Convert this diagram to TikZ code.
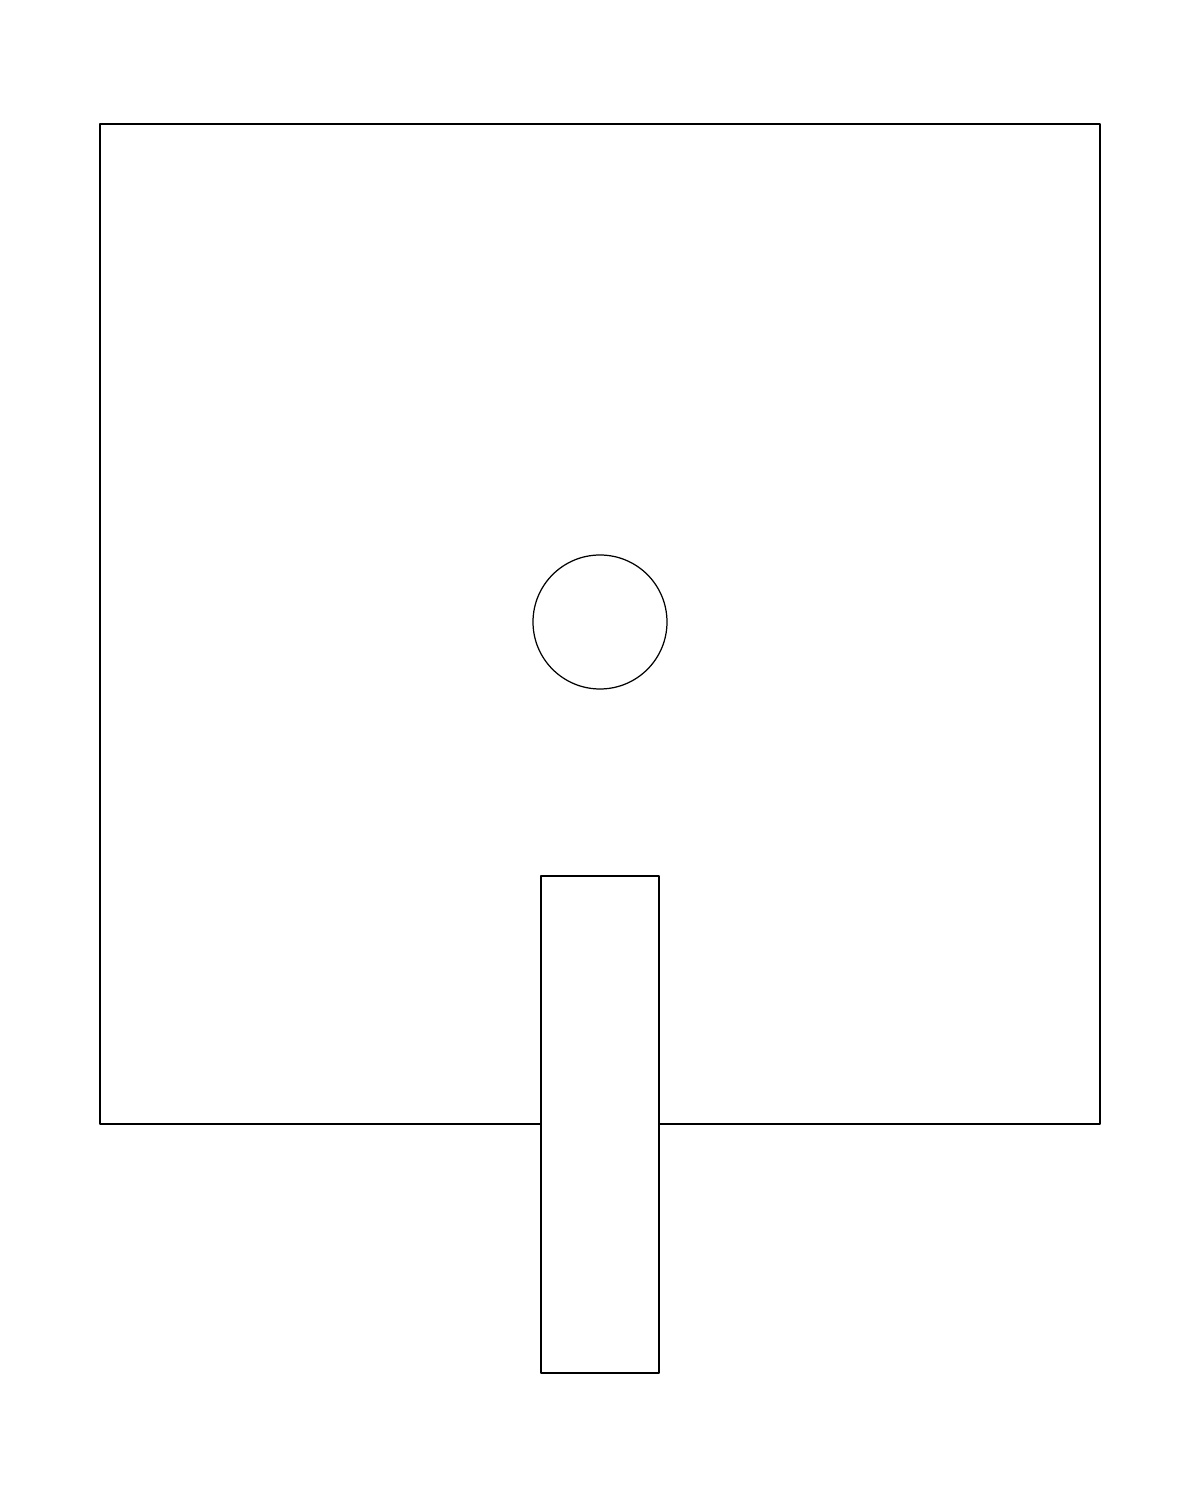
\documentclass[tikz,border=0pt]{standalone}
\usetikzlibrary{arrows.meta}
\tikzset{>=latex}
\tikzset{outline/.style={draw=black, line width=0.35pt}}

\begin{document}
\begin{tikzpicture}[line cap=round, line join=round]
	\useasboundingbox (0,0) rectangle (12,14.98);
	
	% Outer Square
	\draw[outline] (1,3.74) rectangle (11,13.74);
	
	% Circle
	\draw[outline] (6,8.76) circle (0.67);
	
	% Bar Across the Lower Edge
	\draw[outline, fill=white] (5.41,1.25) rectangle (6.59,6.22);
\end{tikzpicture}
\end{document}
